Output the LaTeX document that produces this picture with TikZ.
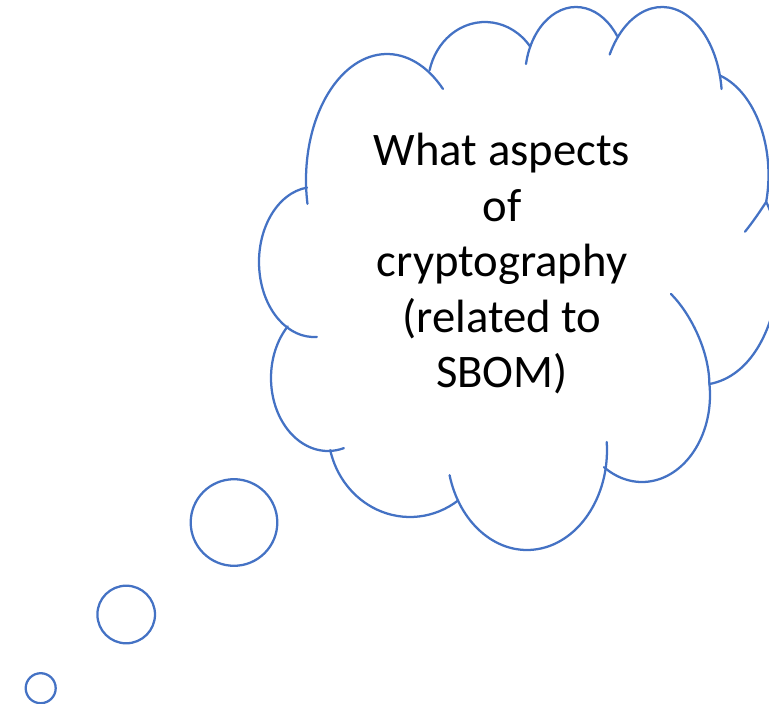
\documentclass[tikz,border=0pt]{standalone}
\usepackage{fontspec}
\setmainfont{Carlito}
\definecolor{cloudblue}{HTML}{4472C4}
\tikzset{
  outline/.style={draw=cloudblue, line width=1.7pt, line cap=round},
  bubble/.style={outline, circle, inner sep=0pt},
}
% one lobe of the cloud: centre, radii, start and end angle
\newcommand{\lobe}[6]{\draw[outline] (#1,#2) ++(#5:#3 and #4) arc[start angle=#5, end angle=#6, x radius=#3, y radius=#4];}
\begin{document}
\begin{tikzpicture}[x=0.75pt,y=0.75pt,yscale=-1]
\useasboundingbox (0,0) rectangle (769,704);

% cloud lobes, clockwise from the upper left
\lobe{387}{180}{81}{126}{-46.3}{-190.9}
\lobe{485}{85}{57}{63}{-37.4}{-166.4}
\lobe{576}{78}{51}{71}{-168.6}{-36.3}
\lobe{662}{100}{60}{93}{-150.7}{-6.8}
\lobe{700}{175}{68.5}{104}{-72.4}{15}
\lobe{642}{395}{68}{87}{-7.3}{124}
\lobe{527}{450}{80}{100}{-4.6}{165.4}
\lobe{410}{430}{82}{87}{54}{166.7}
\lobe{328}{378}{57}{73}{-135}{-286.2}
\lobe{314}{262}{55}{75}{-97.4}{-273}

% right-hand lobe running past the edge, and the inner arcs on that side
\coordinate (r1) at (766.2,201.9);
\coordinate (r2) at (709.4,384);
\coordinate (t1) at (745,231.7);
\coordinate (t2) at (671,294);
\draw[outline] (r1) .. controls (795,260) and (775,372) .. (r2);
\draw[outline] (r1) .. controls (759,213) and (752,223) .. (t1);
\draw[outline] (t2) .. controls (690,313) and (709,350) .. (r2);

% text
\node[anchor=north, align=center, inner sep=0pt, font=\fontsize{35}{41.6}\selectfont] (q) at (502,133)
  {What aspects\\of\\cryptography\\(related to\\SBOM)};

% thought bubbles
\node[bubble, minimum size=86.6*0.75pt] (b1) at (234,522.5) {};
\node[bubble, minimum size=57.6*0.75pt] (b2) at (126.2,614.5) {};
\node[bubble, minimum size=30*0.75pt] (b3) at (40.7,688.2) {};
\end{tikzpicture}
\end{document}
